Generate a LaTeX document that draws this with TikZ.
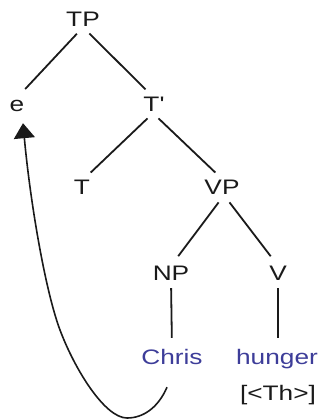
\documentclass[tikz,border=0pt]{standalone}
\usepackage{fontspec}
\usetikzlibrary{arrows.meta}
\newfontfamily\treefont{Liberation Sans}[FakeStretch=1.25]
\definecolor{Ink}{HTML}{1A1A1A}
\definecolor{Leaf}{HTML}{3D3D99}
\begin{document}
\begin{tikzpicture}[x=1pt,y=-1pt,every node/.style={font=\treefont\fontsize{21}{25}\selectfont,text=Ink,anchor=base,inner sep=0pt,text height=14pt,text depth=0pt},branch/.style={draw=Ink,line width=1.8pt,shorten <=9pt,shorten >=12pt},stem/.style={draw=Ink,line width=1.8pt,shorten <=8pt,shorten >=12pt},leaf/.style={text=Leaf},trace/.style={draw=Ink,line width=1.6pt,-{Triangle[length=15pt,width=21pt]}}]
\useasboundingbox (0,0) rectangle (323,419);
\node (tp) at (83,27) {TP};
\node (e) at (17,112) {e};\node (tbar) at (154,112) {T'};
\node (t) at (82,195) {T};\node (vp) at (222,195) {VP};
\node (np) at (171,280) {NP};\node (v) at (278,280) {V};
\node[leaf] (chris) at (172,364) {Chris};\node[leaf] (hunger) at (277,364) {hunger};
\node (th) at (278,400) {[<Th>]};

\draw[branch] (tp.south)--(e.north);\draw[branch] (tp.south)--(tbar.north);
\draw[branch] (tbar.south)--(t.north);\draw[branch] ([xshift=-2pt]tbar.south)--([xshift=2pt]vp.north);
\draw[branch] ([xshift=2pt]vp.south)--(np.north);\draw[branch] ([xshift=2pt]vp.south)--(v.north);
\draw[stem] (np.south)--(chris.north);\draw[stem] (v.south)--([xshift=1pt]hunger.north);
\draw[trace] ([shift={(-5,23)}]chris.south) .. controls (158,408) and (143,418) .. (127,418) .. controls (105,418) and (75,370) .. (60,330) .. controls (45,290) and (30,200) .. ([shift={(6,11)}]e.south);
\end{tikzpicture}
\end{document}
